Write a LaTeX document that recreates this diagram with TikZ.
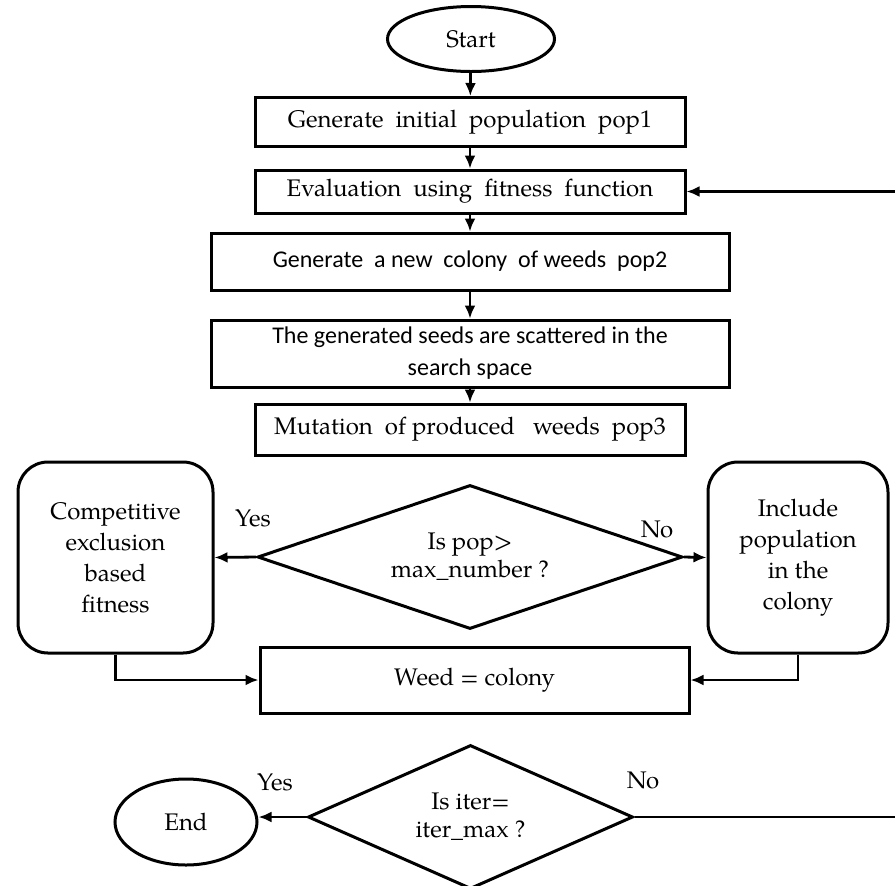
\documentclass[tikz,border=0pt]{standalone}
\usepackage{fontspec}
\setmainfont{TeX Gyre Pagella}
\newfontfamily\calib{Carlito}
\usetikzlibrary{shapes.geometric,arrows.meta}
\tikzset{
  base/.style={draw=black, line width=1.5pt, inner sep=0pt, align=center, font=\fontsize{12}{15.5}\selectfont},
  procbox/.style={base, rectangle},
  roundbox/.style={base, rectangle, rounded corners=15pt},
  termnode/.style={base, ellipse},
  decision/.style={base, diamond, font=\fontsize{12}{14}\selectfont},
  conn/.style={line width=1.4pt, -{Latex[length=6.5pt,width=5.5pt]}},
  plainline/.style={line width=1.4pt},
  lbl/.style={font=\fontsize{12}{14}\selectfont, inner sep=0pt}
}
\begin{document}
\begin{tikzpicture}[x=0.5pt,y=-0.5pt]
\useasboundingbox (0,0) rectangle (895,885);
\node[termnode, minimum width=83.5pt, minimum height=32.5pt] (start) at (471,39) {Start};
\node[procbox, minimum width=215pt, minimum height=24.5pt] (b1) at (470,122) {Generate\ \ initial\ \ population\ \ pop1};
\node[procbox, minimum width=215pt, minimum height=21.5pt] (eval) at (470,191.5) {Evaluation\ \ using\ \ fitness\ \ function};
\node[procbox, minimum width=259pt, minimum height=28.5pt] (b3) at (470,261.5) {\calib Generate\ \ a new\ \ colony\ \ of weeds\ \ pop2};
\node[procbox, minimum width=259pt, minimum height=33.5pt, font=\fontsize{12}{16}\selectfont] (b4) at (470,353.5) {\calib The generated seeds are scattered in the\\ \calib search space};
\node[procbox, minimum width=215pt, minimum height=25.5pt] (mut) at (470,429.5) {Mutation\ \ of produced\ \ \ weeds\ \ pop3};
\node[decision, aspect=2.95, minimum width=212.5pt, minimum height=72pt] (d1) at (470,557) {Is pop>\\ max\_number ?};
\node[roundbox, minimum width=97.5pt, minimum height=95.5pt] (lb) at (115.5,557.5) {Competitive\\ exclusion\\ based\\ fitness};
\node[roundbox, minimum width=90pt, minimum height=95.5pt] (rb) at (798,557.5) {Include\\ population\\ in the\\ colony};
\node[procbox, minimum width=214.5pt, minimum height=33pt] (weed) at (474.5,680) {Weed = colony};
\node[decision, aspect=2.26, minimum width=162.5pt, minimum height=72pt] (d2) at (470.5,817) {Is iter=\\ iter\_max ?};
\node[termnode, minimum width=71pt, minimum height=43pt] (end) at (186,822) {End};
\node[lbl] (yes1) at (253,518) {Yes};
\node[lbl] (no1) at (657,529) {No};
\node[lbl] (yes2) at (275,782) {Yes};
\node[lbl] (no2) at (643,780) {No};
\coordinate (loopA) at (895,817);
\coordinate (loopB) at (895,191.5);
\draw[conn] (start) -- (b1);
\draw[conn] (b1) -- (eval);
\draw[conn] (eval) -- (b3);
\draw[conn] (b3) -- (b4);
\draw[conn] (b4) -- (mut);
\draw[conn] (d1.west) -- (lb.east);
\draw[conn] (d1.east) -- (rb.west);
\draw[conn] (lb.south) |- (weed.west);
\draw[conn] (rb.south) |- (weed.east);
\draw[conn] (d2.west) -- (end.east |- d2.west);
\draw[plainline] (d2.east) -- (loopA);
\draw[conn] (loopB) -- (eval.east);
\end{tikzpicture}
\end{document}
